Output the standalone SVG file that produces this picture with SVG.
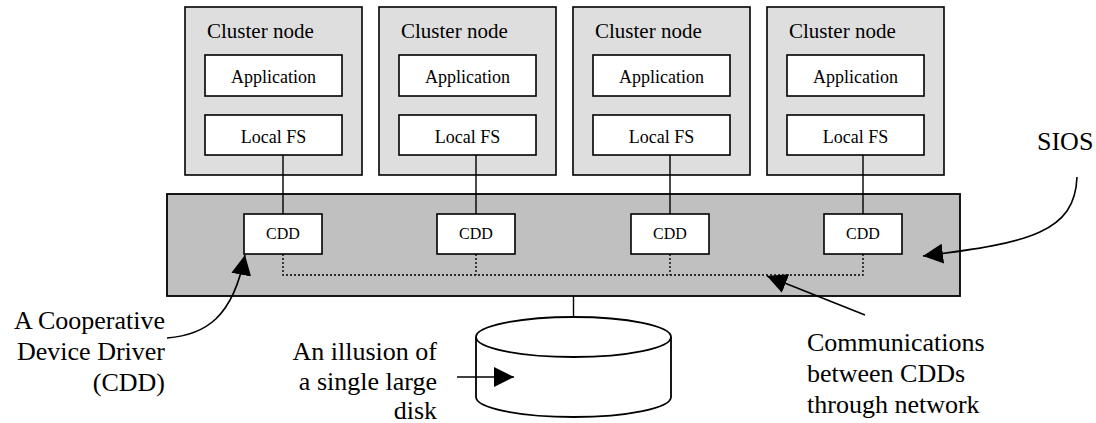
<svg xmlns="http://www.w3.org/2000/svg" width="1096" height="423" viewBox="0 0 1096 423">
  <defs>
    <marker id="head" viewBox="0 0 20 20" refX="20" refY="10" markerWidth="20" markerHeight="20" markerUnits="userSpaceOnUse" orient="auto">
      <path d="M0,0 L20,10 L0,20 Z" fill="#000"/>
    </marker>
  </defs>
  <style>
    .node { fill: #dedede; stroke: #000; stroke-width: 1.6; }
    .inner { fill: #fff; stroke: #000; stroke-width: 1.6; }
    .bar { fill: #c0c0c0; stroke: #000; stroke-width: 1.8; }
    .link { fill: none; stroke: #000; stroke-width: 1.4; }
    .net { fill: none; stroke: #000; stroke-width: 1.4; stroke-dasharray: 2 2; }
    .arrow { fill: none; stroke: #000; stroke-width: 1.6; marker-end: url(#head); }
    .disk { fill: #fff; stroke: #000; stroke-width: 1.8; }
    text { font-family: "Liberation Serif", "Times New Roman", serif; fill: #000; }
    .title { font-size: 21px; }
    .small { font-size: 18px; text-anchor: middle; }
    .cdd { font-size: 16px; text-anchor: middle; }
    .label { font-size: 26px; }
    .end { text-anchor: end; }
  </style>

  <!-- shared layer -->
  <g id="sios">
    <rect class="bar" x="167" y="194" width="793" height="102"/>
  </g>

  <!-- cluster nodes -->
  <g id="node1">
    <rect class="node" x="185" y="7" width="177" height="168"/>
    <text class="title" x="207" y="38">Cluster node</text>
    <rect class="inner" x="205" y="55" width="137" height="41"/>
    <text class="small" x="273.5" y="83">Application</text>
    <rect class="inner" x="205" y="115" width="137" height="40"/>
    <text class="small" x="273.5" y="143">Local FS</text>
  </g>
  <g id="node2">
    <rect class="node" x="379" y="7" width="177" height="168"/>
    <text class="title" x="401" y="38">Cluster node</text>
    <rect class="inner" x="399" y="55" width="137" height="41"/>
    <text class="small" x="467.5" y="83">Application</text>
    <rect class="inner" x="399" y="115" width="137" height="40"/>
    <text class="small" x="467.5" y="143">Local FS</text>
  </g>
  <g id="node3">
    <rect class="node" x="573" y="7" width="177" height="168"/>
    <text class="title" x="595" y="38">Cluster node</text>
    <rect class="inner" x="593" y="55" width="137" height="41"/>
    <text class="small" x="661.5" y="83">Application</text>
    <rect class="inner" x="593" y="115" width="137" height="40"/>
    <text class="small" x="661.5" y="143">Local FS</text>
  </g>
  <g id="node4">
    <rect class="node" x="767" y="7" width="177" height="168"/>
    <text class="title" x="789" y="38">Cluster node</text>
    <rect class="inner" x="787" y="55" width="137" height="41"/>
    <text class="small" x="855.5" y="83">Application</text>
    <rect class="inner" x="787" y="115" width="137" height="40"/>
    <text class="small" x="855.5" y="143">Local FS</text>
  </g>

  <!-- cooperative device drivers -->
  <g id="cdd1">
    <rect class="inner" x="244" y="214" width="78" height="40"/>
    <text class="cdd" x="283" y="239">CDD</text>
  </g>
  <g id="cdd2">
    <rect class="inner" x="437" y="214" width="78" height="40"/>
    <text class="cdd" x="476" y="239">CDD</text>
  </g>
  <g id="cdd3">
    <rect class="inner" x="631" y="214" width="78" height="40"/>
    <text class="cdd" x="670" y="239">CDD</text>
  </g>
  <g id="cdd4">
    <rect class="inner" x="824" y="214" width="78" height="40"/>
    <text class="cdd" x="863" y="239">CDD</text>
  </g>

  <!-- shared disk -->
  <g id="disk">
    <path class="disk" d="M476,337 L476,397 A97.5,20 0 0 0 671,397 L671,337"/>
    <ellipse class="disk" cx="573.5" cy="337" rx="97.5" ry="20"/>
  </g>

  <!-- connectors -->
  <g id="connectors">
    <path class="link" d="M283,155 V214 M476,155 V214 M670,155 V214 M863,155 V214"/>
    <path class="link" d="M573.5,296 V317"/>
    <path class="net" d="M283,254 V275 H863 V254 M476,254 V275 M670,254 V275"/>
    <path class="arrow" d="M167,338 C205,335 233,318 245,255"/>
    <path class="arrow" d="M1077,177 C1075,232 1030,243 923,256"/>
    <path class="arrow" d="M865,315 L767,276"/>
    <path class="arrow" d="M457,377 L514,377"/>
  </g>

  <!-- callout labels -->
  <g id="labels">
    <text class="label end" x="165" y="329">A Cooperative</text>
    <text class="label end" x="165" y="360">Device Driver</text>
    <text class="label end" x="165" y="391">(CDD)</text>
    <text class="label end" x="437" y="360">An illusion of</text>
    <text class="label end" x="437" y="390">a single large</text>
    <text class="label end" x="437" y="419">disk</text>
    <text class="label" x="807" y="351">Communications</text>
    <text class="label" x="807" y="382">between CDDs</text>
    <text class="label" x="807" y="413">through network</text>
    <text class="label" x="1037" y="150">SIOS</text>
  </g>
</svg>
